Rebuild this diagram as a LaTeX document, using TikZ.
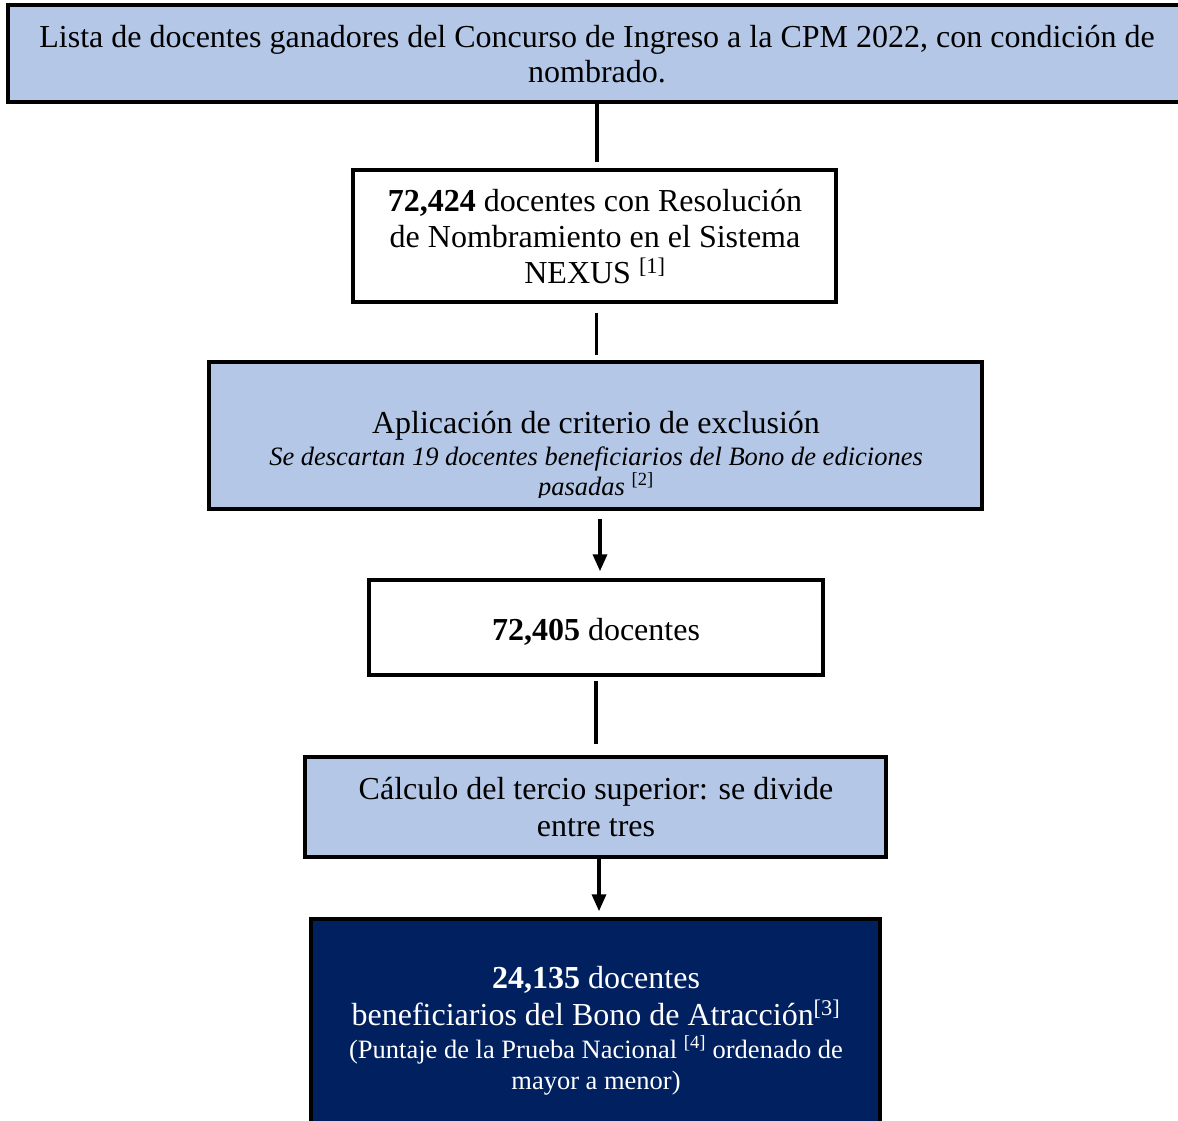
\documentclass[tikz,border=0pt]{standalone}
\usepackage{fontspec}
\setmainfont{Liberation Serif}
\usetikzlibrary{arrows.meta}
\definecolor{lightblue}{HTML}{B4C7E7}
\definecolor{navy}{HTML}{002060}
\begin{document}
\begin{tikzpicture}[x=1pt,y=-1pt,
  box/.style={draw=black, line width=3.5pt, inner sep=0pt, align=center,
    font=\fontsize{32}{36}\selectfont},
  bluebox/.style={box, fill=lightblue},
  whitebox/.style={box, fill=white},
  navybox/.style={box, fill=navy, text=white},
  linetext/.style={inner sep=0pt, anchor=base},
  conn/.style={line width=3.5pt},
  arr/.style={conn, -{Triangle[length=17pt,width=14pt]}}]
\useasboundingbox (0,0) rectangle (1178,1120);
\fill[white] (0,0) rectangle (1178,1120);

\node[bluebox, minimum width=1174pt, minimum height=97pt] (b1) at (595,53.5) {};
\node[linetext, font=\fontsize{32}{36}\selectfont, align=center] (t1) at (597,47)
  {Lista de docentes ganadores del Concurso de Ingreso a la CPM 2022, con condición de};
\node[linetext, font=\fontsize{32}{36}\selectfont] (t1b) at (597,82) {nombrado.};

\node[whitebox, minimum width=483pt, minimum height=132pt] (b2) at (594.5,236) {};
\node[linetext, font=\fontsize{32}{36}\selectfont] (t2a) at (595,211) {\textbf{72,424} docentes con Resolución};
\node[linetext, font=\fontsize{32}{36}\selectfont] (t2b) at (595,247) {de Nombramiento en el Sistema};
\node[linetext, font=\fontsize{32}{36}\selectfont] (t2c) at (595,283) {NEXUS \textsuperscript{[1]}};

\node[bluebox, minimum width=773pt, minimum height=147pt] (b3) at (595.5,435.5) {};
\begin{scope}
  \clip (209,362) rectangle (982,497);
  \node[linetext, font=\fontsize{32}{36}\selectfont] (t3a) at (596,433) {Aplicación de criterio de exclusión};
  \node[linetext, font=\fontsize{26.5}{30}\selectfont\itshape] (t3b) at (596,465) {Se descartan 19 docentes beneficiarios del Bono de ediciones};
  \node[linetext, font=\fontsize{26.5}{30}\selectfont\itshape] (t3c) at (596,495) {pasadas \textsuperscript{\upshape[2]}};
\end{scope}

\node[whitebox, minimum width=454pt, minimum height=95pt] (b4) at (596,627.5) {};
\node[linetext, font=\fontsize{32}{36}\selectfont] (t4) at (596,640) {\textbf{72,405} docentes};

\node[bluebox, minimum width=581pt, minimum height=100pt] (b5) at (595.5,807) {};
\node[linetext, font=\fontsize{32}{36}\selectfont] (t5a) at (596,799) {Cálculo del tercio superior: se divide};
\node[linetext, font=\fontsize{32}{36}\selectfont] (t5b) at (596,836) {entre tres};

\node[navybox, minimum width=569pt, minimum height=216pt] (b6) at (595.5,1027) {};
\begin{scope}[text=white]
  \node[linetext, font=\fontsize{32}{36}\selectfont] (t6a) at (596,988) {\textbf{24,135} docentes};
  \node[linetext, font=\fontsize{32}{36}\selectfont] (t6b) at (596,1025) {beneficiarios del Bono de Atracción\textsuperscript{[3]}};
  \node[linetext, font=\fontsize{26.5}{30}\selectfont] (t6c) at (596,1058) {(Puntaje de la Prueba Nacional \textsuperscript{[4]} ordenado de};
  \node[linetext, font=\fontsize{26.5}{30}\selectfont] (t6d) at (596,1089) {mayor a menor)};
\end{scope}

\draw[conn, shorten >=6pt] ([xshift=2pt]b1.south) -- ([xshift=2pt]b1.south |- b2.north);
\draw[conn, shorten <=9pt, shorten >=5pt] ([xshift=2pt]b2.south) -- ([xshift=2pt]b2.south |- b3.north);
\draw[arr, shorten <=8pt, shorten >=7pt] ([xshift=4.5pt]b3.south) -- ([xshift=4.5pt]b3.south |- b4.north);
\draw[conn, shorten <=4pt, shorten >=11pt] (b4.south) -- (b4.south |- b5.north);
\draw[arr, shorten >=6pt] ([xshift=3.5pt]b5.south) -- ([xshift=3.5pt]b5.south |- b6.north);
\end{tikzpicture}
\end{document}
